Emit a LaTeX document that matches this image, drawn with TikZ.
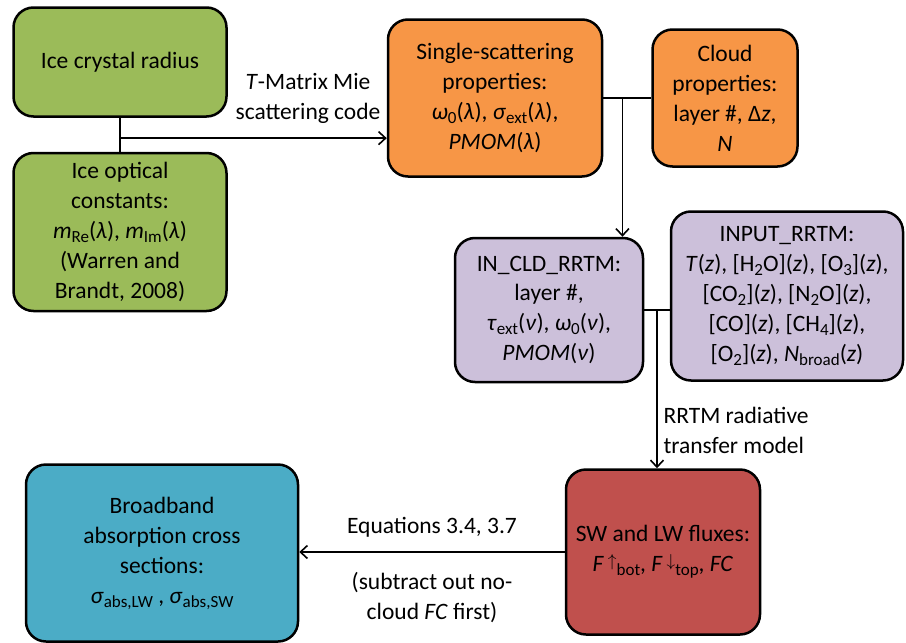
\documentclass[tikz,border=0pt]{standalone}
\usepackage{fontspec}
\setmainfont{Carlito}
\usetikzlibrary{calc,arrows.meta,positioning}
\definecolor{icegreen}{RGB}{155,187,89}
\definecolor{scatorange}{RGB}{247,150,70}
\definecolor{rrtmpurple}{RGB}{204,192,218}
\definecolor{fluxred}{RGB}{192,80,77}
\definecolor{crossblue}{RGB}{75,172,198}
% sub- and superscripts a little larger than the defaults
\newcommand\lo[1]{\raisebox{-0.35ex}{\fontsize{17}{17}\selectfont #1}}
\newcommand\hi[1]{\raisebox{0.45ex}{\fontsize{16}{16}\selectfont #1}}

\begin{document}
\begin{tikzpicture}[x=1pt, y=-1pt,
    every node/.style={font=\fontsize{23.5}{30}\selectfont},
    box/.style={draw, line width=2.5pt, rounded corners=20pt, align=center, inner sep=4pt},
    flow/.style={line width=1.6pt, -{Straight Barb[length=7pt,width=13pt]}},
    link/.style={line width=1.6pt}]
% Fixed frame: same proportions as the reference
\useasboundingbox (0,0) rectangle (906,643);

% Inputs (green)
\node[box, fill=icegreen, minimum width=213pt, minimum height=109pt] (rad) at (120,62) {Ice crystal radius};
\node[box, fill=icegreen, minimum width=213pt, minimum height=158pt] (opt) at (120,232)
    {Ice optical\\constants:\\\textit{m}\lo{Re}(\textit{λ}), \textit{m}\lo{Im}(\textit{λ})\\(Warren and\\Brandt, 2008)};

% Scattering and cloud properties (orange)
\node[box, fill=scatorange, minimum width=214pt, minimum height=157pt] (ssp) at (495,98)
    {Single-scattering\\properties:\\\textit{ω}\lo{0}(\textit{λ}), \textit{σ}\lo{ext}(\textit{λ}),\\\textit{PMOM}(\textit{λ})};
\node[box, fill=scatorange, minimum width=145pt, minimum height=137pt] (cld) at (725,98)
    {Cloud\\properties:\\layer \#, Δ\textit{z},\\\textit{N}};

% RRTM input files (purple)
\node[box, fill=rrtmpurple, minimum width=188pt, minimum height=144pt] (incld) at (549,310)
    {IN\_CLD\_RRTM:\\layer \#,\\\textit{τ}\lo{ext}(\textit{ν}), \textit{ω}\lo{0}(\textit{ν}),\\\textit{PMOM}(\textit{ν})};
\node[box, fill=rrtmpurple, minimum width=232pt, minimum height=169pt] (input) at (787,296)
    {INPUT\_RRTM:\\\textit{T}(\textit{z}), [H\lo{2}O](\textit{z}), [O\lo{3}](\textit{z}),\\{}[CO\lo{2}](\textit{z}), [N\lo{2}O](\textit{z}),\\{}[CO](\textit{z}), [CH\lo{4}](\textit{z}),\\{}[O\lo{2}](\textit{z}), \textit{N}\lo{broad}(\textit{z})};

% Outputs
\node[box, fill=fluxred, minimum width=194pt, minimum height=165pt] (flux) at (663,552)
    {SW and LW fluxes:\\\textit{F}\,\hi{$\uparrow$}\lo{bot}, \textit{F}\,\hi{$\downarrow$}\lo{top}, \textit{FC}};
\node[box, fill=crossblue, minimum width=272pt, minimum height=177pt] (bb) at (162,553)
    {Broadband\\absorption cross\\sections:\\\textit{σ}\lo{abs,LW} , \textit{σ}\lo{abs,SW}};

% Connectors
\coordinate (j1) at ($(rad.south)!0.6!(opt.north)$);
\draw[link] (rad.south) -- (opt.north);
\draw[flow] (j1) -- (j1 -| ssp.west);
\node[align=center] (tmat) at (308,98) {\textit{T}-Matrix Mie\\scattering code};

\coordinate (j2) at ($(ssp.east)!0.4!(cld.west)$);
\draw[link] (ssp.east) -- (cld.west);
\draw[flow] (j2) -- (j2 |- incld.north);

\coordinate (j3) at ($(incld.east)!0.5!(incld.east -| input.west)$);
\draw[link] (incld.east) -- (incld.east -| input.west);
\draw[flow] (j3) -- (j3 |- flux.north);
\node[align=left, anchor=west] (rrtm) at (660,430) {RRTM radiative\\transfer model};

\draw[flow] (flux.west) -- (flux.west -| bb.east);
\node (eqn) at (432,527) {Equations 3.4, 3.7};
\node[align=center] (sub) at (432,598) {(subtract out no-\\cloud \textit{FC} first)};

\end{tikzpicture}
\end{document}
